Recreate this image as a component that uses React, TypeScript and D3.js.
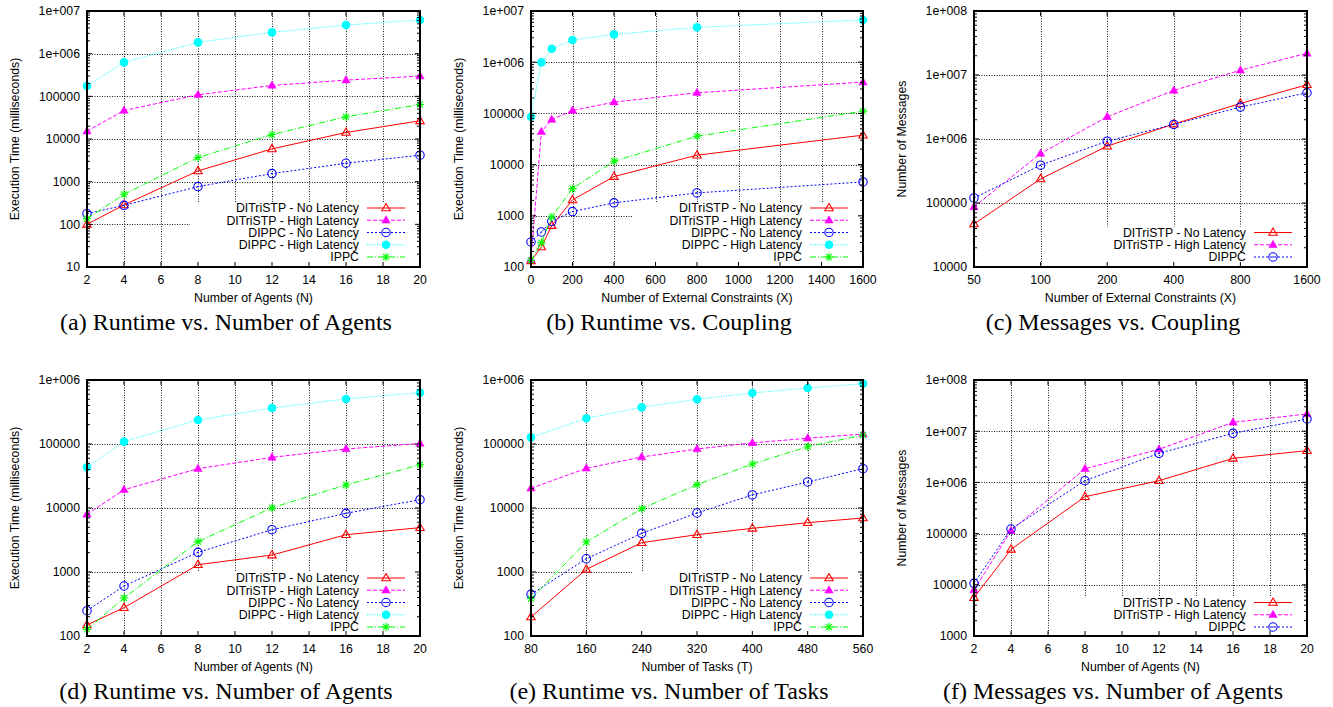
import * as d3 from "d3";

const SANS = "'Liberation Sans', Arial, Helvetica, sans-serif";
const SERIF = "'Liberation Serif', 'Times New Roman', serif";

// (a) runtime vs. number of agents
const agentsA = [2, 4, 8, 12, 16, 20];
const aTriNo = [100, 285, 1790, 5860, 14200, 26700];
const aTriHigh = [15200, 46600, 108600, 180000, 240000, 298000];
const aDippcNo = [178, 279, 766, 1550, 2700, 4170];
const aDippcHigh = [174000, 624000, 1840000, 3160000, 4690000, 6150000];
const aIppc = [136, 506, 3670, 12700, 33100, 64500];

// (b) runtime vs. coupling
const constraintsB = [0, 50, 100, 200, 400, 800, 1600];
const bTriNo = [132, 246, 643, 2040, 5840, 15300, 37600];
const bTriHigh = [140, 43700, 76000, 114000, 166000, 253000, 409000];
const bDippcNo = [308, 483, 782, 1210, 1790, 2800, 4590];
const bDippcHigh = [85900, 991000, 1830000, 2710000, 3500000, 4800000, 6670000];
const bIppc = [135, 299, 950, 3400, 11650, 35900, 110700];

// (c) messages vs. coupling
const constraintsC = [50, 100, 200, 400, 800, 1600];
const cTriNo = [47100, 238000, 773000, 1710000, 3590000, 7040000];
const cTriHigh = [86900, 593000, 2220000, 5740000, 11900000, 21800000];
const cDippc = [120000, 390000, 925000, 1690000, 3150000, 5280000];

// (d) runtime vs. number of agents
const agentsD = [2, 4, 8, 12, 16, 20];
const dTriNo = [149, 277, 1300, 1840, 3830, 4930];
const dTriHigh = [7960, 19300, 41200, 61900, 83600, 102000];
const dDippcNo = [249, 604, 2030, 4580, 8260, 13500];
const dDippcHigh = [43200, 109000, 237000, 365000, 505000, 634000];
const dIppc = [127, 392, 2980, 10100, 22900, 47500];

// (e) runtime vs. number of tasks
const tasksE = [80, 160, 240, 320, 400, 480, 560];
const eTriNo = [198, 1100, 2870, 3830, 4810, 5900, 6980];
const eTriHigh = [20300, 41700, 62700, 83600, 104000, 123000, 143000];
const eDippcNo = [448, 1610, 4020, 8350, 16000, 25500, 41200];
const eDippcHigh = [127000, 252000, 374000, 499000, 627000, 750000, 877000];
const eIppc = [383, 2940, 9770, 23200, 48700, 90800, 138000];

// (f) messages vs. number of agents
const agentsF = [2, 4, 8, 12, 16, 20];
const fTriNo = [5610, 49300, 526000, 1080000, 2950000, 4170000];
const fTriHigh = [7910, 114000, 1850000, 4430000, 14900000, 21700000];
const fDippc = [10700, 123000, 1080000, 3700000, 9080000, 17300000];

const agentTicks = [2, 4, 6, 8, 10, 12, 14, 16, 18, 20];
const couplingTicks = [0, 200, 400, 600, 800, 1000, 1200, 1400, 1600];
const couplingLogTicks = [50, 100, 200, 400, 800, 1600];
const taskTicks = [80, 160, 240, 320, 400, 480, 560];

const LABEL_TRI_NO = "DITriSTP - No Latency";
const LABEL_TRI_HIGH = "DITriSTP - High Latency";
const LABEL_DIPPC_NO = "DIPPC - No Latency";
const LABEL_DIPPC_HIGH = "DIPPC - High Latency";
const LABEL_DIPPC = "DIPPC";
const LABEL_IPPC = "IPPC";

const STYLE = {
  triNo: { color: "#ff0000", dash: undefined, marker: "triOpen" },
  triHigh: { color: "#ff00ff", dash: "4 2", marker: "triFilled" },
  dippcNo: { color: "#0000ff", dash: "2 2", marker: "circleOpen" },
  dippcHigh: { color: "#00ffff", dash: "1 1.5", marker: "circleFilled" },
  ippc: { color: "#00ff00", dash: "6 2 1 2", marker: "star" },
};

type Series = { label: string; values: number[]; style: keyof typeof STYLE };

type PanelConfig = {
  col: number;
  row: number;
  xs: number[];
  xTicks: number[];
  xLog?: boolean;
  yDomain: [number, number];
  xLabel: string;
  yLabel: string;
  caption: string;
  series: Series[];
};

const COL_LEFT = [87, 531, 974];
const COL_RIGHT = [420, 863, 1307];
const ROW_TOP = [11, 380];
const ROW_BOTTOM = [267, 636];
const CAPTION_X = [226, 669, 1113];
const FS = 12.3;

const runtimeSeries = (tn: number[], th: number[], dn: number[], dh: number[], ip: number[]): Series[] => [
  { label: LABEL_TRI_NO, values: tn, style: "triNo" },
  { label: LABEL_TRI_HIGH, values: th, style: "triHigh" },
  { label: LABEL_DIPPC_NO, values: dn, style: "dippcNo" },
  { label: LABEL_DIPPC_HIGH, values: dh, style: "dippcHigh" },
  { label: LABEL_IPPC, values: ip, style: "ippc" },
];

const messageSeries = (tn: number[], th: number[], dp: number[]): Series[] => [
  { label: LABEL_TRI_NO, values: tn, style: "triNo" },
  { label: LABEL_TRI_HIGH, values: th, style: "triHigh" },
  { label: LABEL_DIPPC, values: dp, style: "dippcNo" },
];

const panels: PanelConfig[] = [
  {
    col: 0, row: 0, xs: agentsA, xTicks: agentTicks, yDomain: [10, 1e7],
    xLabel: "Number of Agents (N)", yLabel: "Execution Time (milliseconds)",
    caption: "(a) Runtime vs. Number of Agents",
    series: runtimeSeries(aTriNo, aTriHigh, aDippcNo, aDippcHigh, aIppc),
  },
  {
    col: 1, row: 0, xs: constraintsB, xTicks: couplingTicks, yDomain: [100, 1e7],
    xLabel: "Number of External Constraints (X)", yLabel: "Execution Time (milliseconds)",
    caption: "(b) Runtime vs. Coupling",
    series: runtimeSeries(bTriNo, bTriHigh, bDippcNo, bDippcHigh, bIppc),
  },
  {
    col: 2, row: 0, xs: constraintsC, xTicks: couplingLogTicks, xLog: true, yDomain: [1e4, 1e8],
    xLabel: "Number of External Constraints (X)", yLabel: "Number of Messages",
    caption: "(c) Messages vs. Coupling",
    series: messageSeries(cTriNo, cTriHigh, cDippc),
  },
  {
    col: 0, row: 1, xs: agentsD, xTicks: agentTicks, yDomain: [100, 1e6],
    xLabel: "Number of Agents (N)", yLabel: "Execution Time (milliseconds)",
    caption: "(d) Runtime vs. Number of Agents",
    series: runtimeSeries(dTriNo, dTriHigh, dDippcNo, dDippcHigh, dIppc),
  },
  {
    col: 1, row: 1, xs: tasksE, xTicks: taskTicks, yDomain: [100, 1e6],
    xLabel: "Number of Tasks (T)", yLabel: "Execution Time (milliseconds)",
    caption: "(e) Runtime vs. Number of Tasks",
    series: runtimeSeries(eTriNo, eTriHigh, eDippcNo, eDippcHigh, eIppc),
  },
  {
    col: 2, row: 1, xs: agentsF, xTicks: agentTicks, yDomain: [1000, 1e8],
    xLabel: "Number of Agents (N)", yLabel: "Number of Messages",
    caption: "(f) Messages vs. Number of Agents",
    series: messageSeries(fTriNo, fTriHigh, fDippc),
  },
];

function formatY(v: number) {
  const e = Math.round(Math.log10(v));
  if (e >= 6) return `1e+${String(e).padStart(3, "0")}`;
  return String(v);
}

function Marker({ type, cx, cy, color }: { type: string; cx: number; cy: number; color: string }) {
  if (type === "triOpen" || type === "triFilled") {
    const p = `M${cx},${cy - 4.5}L${cx + 4.2},${cy + 2.8}L${cx - 4.2},${cy + 2.8}Z`;
    return type === "triOpen"
      ? <path d={p} fill="none" stroke={color} strokeWidth={1.1} />
      : <path d={p} fill={color} stroke={color} strokeWidth={0.5} />;
  }
  if (type === "circleOpen") {
    return (
      <g>
        <circle cx={cx} cy={cy} r={4.2} fill="none" stroke={color} strokeWidth={1.1} />
        <circle cx={cx} cy={cy} r={0.8} fill={color} />
      </g>
    );
  }
  if (type === "circleFilled") {
    return <circle cx={cx} cy={cy} r={4.3} fill={color} />;
  }
  // star: plus and cross
  const s = 4.2;
  const d = s * 0.72;
  return (
    <path
      d={`M${cx - s},${cy}H${cx + s}M${cx},${cy - s}V${cy + s}M${cx - d},${cy - d}L${cx + d},${cy + d}M${cx - d},${cy + d}L${cx + d},${cy - d}`}
      stroke={color}
      strokeWidth={1.1}
    />
  );
}

function Panel({ cfg }: { cfg: PanelConfig }) {
  const left = COL_LEFT[cfg.col];
  const right = COL_RIGHT[cfg.col];
  const top = ROW_TOP[cfg.row];
  const bottom = ROW_BOTTOM[cfg.row];

  const x = cfg.xLog
    ? d3.scaleLog().base(2).domain([cfg.xTicks[0], cfg.xTicks[cfg.xTicks.length - 1]]).range([left, right])
    : d3.scaleLinear().domain([cfg.xTicks[0], cfg.xTicks[cfg.xTicks.length - 1]]).range([left, right]);
  const y = d3.scaleLog().domain(cfg.yDomain).range([bottom, top]);

  const e0 = Math.round(Math.log10(cfg.yDomain[0]));
  const e1 = Math.round(Math.log10(cfg.yDomain[1]));
  const decades = d3.range(e0, e1 + 1).map((e) => Math.pow(10, e));
  const minors: number[] = [];
  for (let e = e0; e < e1; e++) {
    for (let m = 2; m <= 9; m++) minors.push(m * Math.pow(10, e));
  }

  const legendRight = COL_RIGHT[cfg.col] - 61;
  const rowStep = 12.25;
  const n = cfg.series.length;
  const legendFirst = (cfg.row === 0 ? 257 : 627) - (n - 1) * rowStep;
  const keyLeft = legendRight - 169;
  const keyTop = legendFirst - 6;

  const gridStyle = { stroke: "#000", strokeWidth: 1, strokeDasharray: "1 1.5", opacity: 0.9 };

  return (
    <g>
      {/* grid */}
      {cfg.xTicks.slice(1, -1).map((t) => (
        <line key={`gx${t}`} x1={Math.round(x(t)) + 0.5} x2={Math.round(x(t)) + 0.5} y1={top} y2={bottom} {...gridStyle} />
      ))}
      {decades.slice(1, -1).map((v) => (
        <line key={`gy${v}`} x1={left} x2={right} y1={Math.round(y(v)) + 0.5} y2={Math.round(y(v)) + 0.5} {...gridStyle} />
      ))}
      {/* key area clears the grid */}
      <rect x={keyLeft} y={keyTop} width={right - keyLeft} height={bottom - keyTop} fill="#fff" />

      {/* series */}
      {cfg.series.map((s) => {
        const st = STYLE[s.style];
        const path = d3
          .line<number>()
          .x((_, i) => x(cfg.xs[i]))
          .y((v) => y(v))(s.values) ?? "";
        return (
          <g key={s.label}>
            <path d={path} fill="none" stroke={st.color} strokeWidth={1} strokeDasharray={st.dash} />
            {s.values.map((v, i) => (
              <Marker key={i} type={st.marker} cx={x(cfg.xs[i])} cy={y(v)} color={st.color} />
            ))}
          </g>
        );
      })}

      {/* legend */}
      {cfg.series.map((s, i) => {
        const st = STYLE[s.style];
        const ly = legendFirst + i * rowStep;
        return (
          <g key={`leg${s.label}`}>
            <text x={legendRight} y={ly} dy="0.35em" textAnchor="end" fontFamily={SANS} fontSize={FS} fill="#000">
              {s.label}
            </text>
            <line x1={legendRight + 8} x2={legendRight + 46} y1={ly} y2={ly} stroke={st.color} strokeWidth={1} strokeDasharray={st.dash} />
            <Marker type={st.marker} cx={legendRight + 27} cy={ly} color={st.color} />
          </g>
        );
      })}

      {/* ticks */}
      {cfg.xTicks.map((t) => (
        <g key={`tx${t}`}>
          <line x1={x(t)} x2={x(t)} y1={bottom} y2={bottom - 5} stroke="#000" />
          <line x1={x(t)} x2={x(t)} y1={top} y2={top + 5} stroke="#000" />
          <text x={x(t)} y={bottom + 17} textAnchor="middle" fontFamily={SANS} fontSize={FS} fill="#000">
            {t}
          </text>
        </g>
      ))}
      {decades.map((v) => (
        <g key={`ty${v}`}>
          <line x1={left} x2={left + 5} y1={y(v)} y2={y(v)} stroke="#000" />
          <line x1={right} x2={right - 5} y1={y(v)} y2={y(v)} stroke="#000" />
          <text x={left - 7} y={y(v)} dy="0.35em" textAnchor="end" fontFamily={SANS} fontSize={FS} fill="#000">
            {formatY(v)}
          </text>
        </g>
      ))}
      {minors.map((v) => (
        <g key={`tm${v}`}>
          <line x1={left} x2={left + 3} y1={y(v)} y2={y(v)} stroke="#000" />
          <line x1={right} x2={right - 3} y1={y(v)} y2={y(v)} stroke="#000" />
        </g>
      ))}

      {/* frame */}
      <rect x={left} y={top} width={right - left} height={bottom - top} fill="none" stroke="#000" strokeWidth={2} />

      {/* labels */}
      <text x={(left + right) / 2} y={bottom + 35} textAnchor="middle" fontFamily={SANS} fontSize={FS} fill="#000">
        {cfg.xLabel}
      </text>
      <text
        transform={`translate(${left - 68},${(top + bottom) / 2}) rotate(-90)`}
        textAnchor="middle"
        fontFamily={SANS}
        fontSize={FS}
        fill="#000"
      >
        {cfg.yLabel}
      </text>
      <text x={CAPTION_X[cfg.col]} y={bottom + 63} textAnchor="middle" fontFamily={SERIF} fontSize={24} fill="#000">
        {cfg.caption}
      </text>
    </g>
  );
}

export default function App() {
  return (
    <svg
      width={1333}
      height={707}
      viewBox="0 0 1333 707"
      style={{ position: "absolute", left: 0, top: 0, background: "#fff" }}
    >
      <rect width={1333} height={707} fill="#fff" />
      {panels.map((p) => (
        <Panel key={p.caption} cfg={p} />
      ))}
    </svg>
  );
}
